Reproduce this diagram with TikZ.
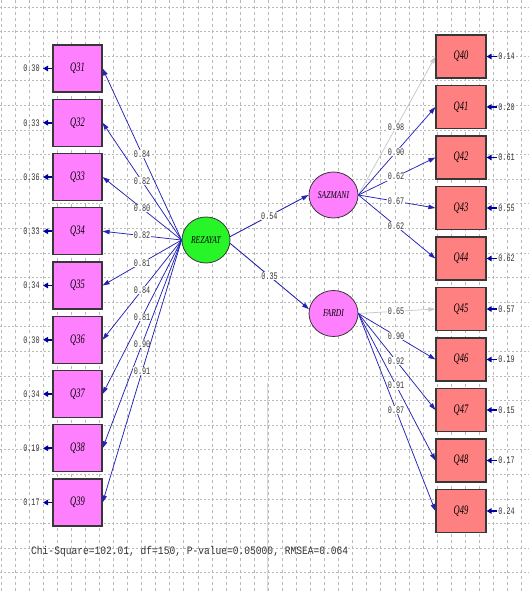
\documentclass[tikz,border=0pt]{standalone}
\usepackage{fontspec}
\usetikzlibrary{arrows.meta,shapes.geometric}
\newfontfamily\qfont[FakeStretch=0.65]{Liberation Serif}
\newfontfamily\lfont[FakeStretch=0.72]{Liberation Serif}
\newfontfamily\numfont[FakeStretch=0.68]{Liberation Mono}
\newfontfamily\chifont[FakeStretch=0.85]{Liberation Mono}
\definecolor{gridc}{RGB}{185,185,185}
\definecolor{pinkc}{RGB}{255,128,255}
\definecolor{salmonc}{RGB}{255,128,128}
\definecolor{greenc}{RGB}{40,245,40}
\definecolor{edgec}{RGB}{55,55,55}
\definecolor{pathc}{RGB}{35,35,180}
\definecolor{errc}{RGB}{0,0,160}
\definecolor{fixc}{RGB}{200,200,200}
\tikzset{
  lbox/.style={rectangle, draw=edgec, line width=1.2pt, fill=pinkc, minimum width=49pt, minimum height=47pt, inner sep=0pt, font=\qfont\itshape\fontsize{13}{13}\selectfont},
  rbox/.style={rectangle, draw=edgec, line width=1.2pt, fill=salmonc, minimum width=50pt, minimum height=43pt, inner sep=0pt, font=\qfont\itshape\fontsize{13}{13}\selectfont},
  latent/.style={ellipse, draw=edgec, line width=0.8pt, minimum width=48pt, minimum height=46pt, inner sep=0pt, font=\lfont\itshape\fontsize{10.5}{10.5}\selectfont},
  pathline/.style={draw=pathc, line width=0.75pt, -{Triangle[length=7pt,width=4.5pt]}},
  fixline/.style={draw=fixc, line width=0.75pt, -{Triangle[length=7pt,width=4.5pt]}},
  errline/.style={draw=errc, line width=1.6pt, -{Triangle[length=5pt,width=5.5pt]}},
  coef/.style={fill=white, inner sep=0.6pt, text=black!80, font=\numfont\fontsize{10}{10}\selectfont},
  errlab/.style={inner sep=0pt, text=black!80, font=\numfont\fontsize{10}{10}\selectfont},
  gridline/.style={draw=gridc, line width=0.7pt, dash pattern=on 2pt off 2pt}
}
\begin{document}
\begin{tikzpicture}[x=1pt, y=-1pt]
\useasboundingbox (0,0) rectangle (529,591);
\fill[white] (0,0) rectangle (529,591);
% grid
\foreach \k in {0,...,23} \draw[gridline] (0,{7+24.6*\k}) -- (529,{7+24.6*\k});
\foreach \k in {0,...,37} \draw[gridline, dash pattern=on 3pt off 3pt] ({0.9+14.07*\k},0) -- ({0.9+14.07*\k},591);
\draw[draw=black!15, line width=0.8pt] (267,383) -- (267,591);

% latent variables
\node[latent, fill=greenc] (REZ) at (206,240) {REZAYAT};
\node[latent, fill=pinkc, minimum width=49pt] (SAZ) at (333.5,195) {SAZMANI};
\node[latent, fill=pinkc, minimum width=49pt] (FAR) at (333.5,313.5) {FARDI};

% left indicators
\foreach \i/\q/\c/\e in {0/31/0.84/0.30, 1/32/0.82/0.33, 2/33/0.80/0.36, 3/34/0.82/0.33, 4/35/0.81/0.34, 5/36/0.84/0.30, 6/37/0.81/0.34, 7/38/0.90/0.19, 8/39/0.91/0.17}{
  \node[lbox] (Q\q) at (77.5,{68.5+54.25*\i}) {Q\q};
  \node[errlab] (E\q) at (31.5,{68.5+54.25*\i}) {\e};
  \coordinate (EA\q) at (43,{68.5+54.25*\i});
  \draw[errline] (Q\q.west) -- (EA\q);
  \draw[pathline] (REZ.west) -- node[coef] {\c} (Q\q.east);
}

% right indicators of SAZMANI
\foreach \i/\q/\c/\e/\s in {0/40/0.98/0.14/fixline, 1/41/0.90/0.20/pathline, 2/42/0.62/0.61/pathline, 3/43/0.67/0.55/pathline, 4/44/0.62/0.62/pathline}{
  \node[rbox] (Q\q) at (461,{56.5+50.5*\i}) {Q\q};
  \node[errlab] (E\q) at (506.5,{56.5+50.5*\i}) {\e};
  \coordinate (EA\q) at (497,{56.5+50.5*\i});
  \draw[errline] (EA\q) -- (Q\q.east);
  \draw[\s] (SAZ.east) -- node[coef, pos=0.49] {\c} (Q\q.west);
}

% right indicators of FARDI
\foreach \i/\q/\c/\e/\s in {5/45/0.65/0.57/fixline, 6/46/0.90/0.19/pathline, 7/47/0.92/0.15/pathline, 8/48/0.91/0.17/pathline, 9/49/0.87/0.24/pathline}{
  \node[rbox] (Q\q) at (461,{56.5+50.5*\i}) {Q\q};
  \node[errlab] (E\q) at (506.5,{56.5+50.5*\i}) {\e};
  \coordinate (EA\q) at (497,{56.5+50.5*\i});
  \draw[errline] (EA\q) -- (Q\q.east);
  \draw[\s] (FAR.east) -- node[coef, pos=0.49] {\c} (Q\q.west);
}

% structural paths
\draw[pathline, line width=0.9pt] (REZ.8) -- node[coef] {0.54} (SAZ.west);
\draw[pathline, line width=0.9pt] (REZ.-8) -- node[coef] {0.35} (FAR.170);

% fit statistics
\node[anchor=west, inner sep=0pt, text=black!80, font=\chifont\fontsize{11.3}{11.3}\selectfont] (FIT) at (31,552) {Chi-Square=102.01, df=150, P-value=0.05000, RMSEA=0.064};
\end{tikzpicture}
\end{document}
